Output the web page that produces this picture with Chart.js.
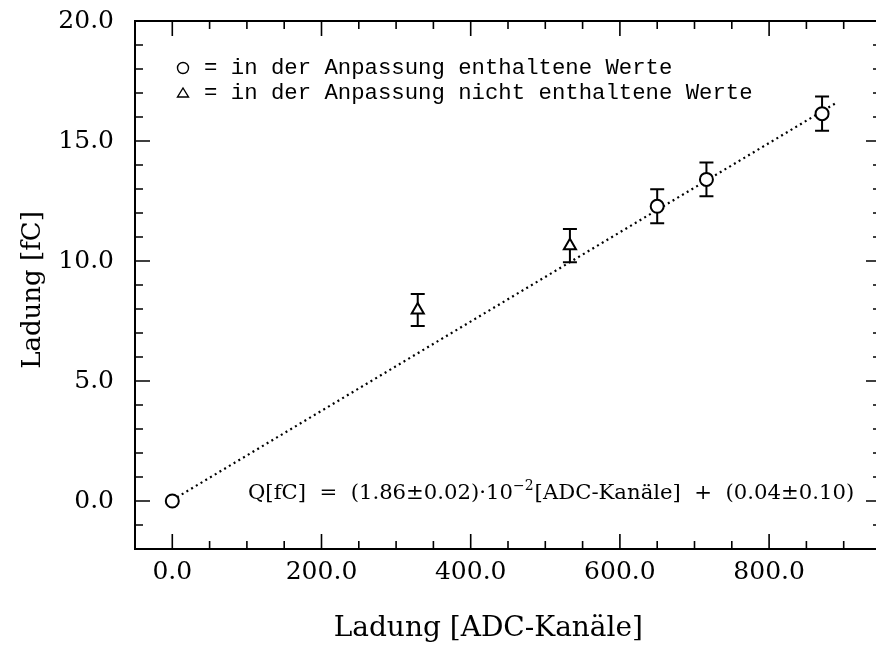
<!DOCTYPE html>
<html><head><meta charset="utf-8">
<script src="https://cdn.jsdelivr.net/npm/chart.js@4.4.0/dist/chart.umd.min.js"></script>
<style>
html,body{margin:0;padding:0;background:#fff;overflow:hidden;width:876px;height:647px}
#wrap{position:absolute;left:0;top:0;width:890px;height:647px}
</style>
</head><body><div id="wrap"><canvas id="c" width="890" height="647"></canvas></div>
<script>
// ---- data ----
const inclX = [0, 650, 716, 871];
const inclY = [0.0, 12.28, 13.40, 16.14];
const inclErr = [0, 0.71, 0.70, 0.71];
const exclX = [329, 533];
const exclY = [7.96, 10.64];
const exclErr = [0.67, 0.69];
const fitX = [0, 890];
const fitY = [0.04, 16.59];
const xMajor = [0, 200, 400, 600, 800];
const yMajor = [0, 5, 10, 15, 20];
const xMinorStep = 50;
const yMinorStep = 1;
const legendTexts = ['= in der Anpassung enthaltene Werte', '= in der Anpassung nicht enthaltene Werte'];
const xTitle = 'Ladung [ADC-Kanäle]';
const yTitle = 'Ladung [fC]';
const eqSegments = [
  {t:'Q[fC]  =  (1.86±0.02)·10', sup:false},
  {t:'−2', sup:true},
  {t:'[ADC-Kanäle]  +  (0.04±0.10)', sup:false}
];

const SERIF = 'DejaVu Serif';
const MONO = 'Liberation Mono';

const framePlugin = {
  id: 'frame',
  beforeDatasetsDraw(chart) {
    const {ctx, chartArea: a, scales: {x, y}} = chart;
    ctx.save();
    ctx.strokeStyle = '#000';
    ctx.lineWidth = 2;
    ctx.strokeRect(a.left, a.top, a.right - a.left, a.bottom - a.top);
    ctx.lineWidth = 1.6;
    ctx.beginPath();
    for (let v = x.min; v <= x.max + 1e-9; v += xMinorStep) {
      const px = x.getPixelForValue(v);
      const len = xMajor.includes(v) ? 15 : 8;
      ctx.moveTo(px, a.bottom); ctx.lineTo(px, a.bottom - len);
      ctx.moveTo(px, a.top); ctx.lineTo(px, a.top + len);
    }
    for (let v = y.min; v <= y.max + 1e-9; v += yMinorStep) {
      const py = y.getPixelForValue(v);
      const len = yMajor.includes(Math.round(v)) ? 15 : 8;
      ctx.moveTo(a.left, py); ctx.lineTo(a.left + len, py);
      ctx.moveTo(a.right, py); ctx.lineTo(a.right - len, py);
    }
    ctx.stroke();
    // error bars
    ctx.lineWidth = 2;
    const bars = (X, Y, E) => {
      X.forEach((xv, i) => {
        if (!E[i]) return;
        const px = x.getPixelForValue(xv);
        const y1 = y.getPixelForValue(Y[i] + E[i]);
        const y2 = y.getPixelForValue(Y[i] - E[i]);
        ctx.beginPath();
        ctx.moveTo(px, y1); ctx.lineTo(px, y2);
        ctx.moveTo(px - 7, y1); ctx.lineTo(px + 7, y1);
        ctx.moveTo(px - 7, y2); ctx.lineTo(px + 7, y2);
        ctx.stroke();
      });
    };
    bars(inclX, inclY, inclErr);
    bars(exclX, exclY, exclErr);
    ctx.restore();
  },
  afterDraw(chart) {
    const {ctx} = chart;
    ctx.save();
    ctx.fillStyle = '#000';
    ctx.strokeStyle = '#000';
    // legend
    ctx.lineWidth = 1.4;
    ctx.beginPath(); ctx.arc(183, 68, 5.5, 0, Math.PI * 2); ctx.stroke();
    ctx.beginPath(); ctx.moveTo(177.5, 97); ctx.lineTo(188.5, 97); ctx.lineTo(183, 88); ctx.closePath(); ctx.stroke();
    ctx.font = '22.3px "' + MONO + '"';
    ctx.textBaseline = 'alphabetic';
    ctx.fillText(legendTexts[0], 204, 74);
    ctx.fillText(legendTexts[1], 204, 99);
    // equation
    let xx = 248;
    const base = 499;
    eqSegments.forEach(s => {
      ctx.font = (s.sup ? '14px "' : '21.2px "') + SERIF + '"';
      ctx.fillText(s.t, xx, s.sup ? base - 9 : base);
      xx += ctx.measureText(s.t).width + (s.sup ? 1 : 0);
    });
    // axis titles
    ctx.font = '28px "' + SERIF + '"';
    ctx.textAlign = 'right';
    ctx.fillText(xTitle, 643, 636);
    ctx.save();
    ctx.translate(40, 290);
    ctx.rotate(-Math.PI / 2);
    ctx.textAlign = 'center';
    ctx.font = '26px "' + SERIF + '"';
    ctx.fillText(yTitle, 0, 0);
    ctx.restore();
    ctx.restore();
  }
};

const ctx = document.getElementById('c').getContext('2d');
new Chart(ctx, {
  type: 'scatter',
  data: {
    datasets: [
      {
        label: 'fit', type: 'line',
        data: fitX.map((v, i) => ({x: v, y: fitY[i]})),
        borderColor: '#000', borderWidth: 2.2, borderDash: [2, 3.5],
        pointRadius: 0, fill: false, order: 3
      },
      {
        label: 'incl',
        data: inclX.map((v, i) => ({x: v, y: inclY[i]})),
        pointStyle: 'circle', pointRadius: 6.5, borderColor: '#000',
        backgroundColor: '#fff', borderWidth: 2, order: 1
      },
      {
        label: 'excl',
        data: exclX.map((v, i) => ({x: v, y: exclY[i]})),
        pointStyle: 'triangle', pointRadius: 7, borderColor: '#000',
        backgroundColor: '#fff', borderWidth: 2, order: 1
      }
    ]
  },
  options: {
    responsive: false,
    animation: false,
    layout: {padding: {left: 0, right: 6, top: 21, bottom: 0}},
    plugins: {legend: {display: false}, tooltip: {enabled: false}},
    scales: {
      x: {
        type: 'linear', min: -50, max: 950,
        grid: {display: false, drawTicks: false},
        border: {display: false},
        afterBuildTicks: s => { s.ticks = xMajor.map(v => ({value: v})); },
        ticks: {
          callback: v => Number(v).toFixed(1),
          font: {family: SERIF, size: 25}, color: '#000',
          padding: 8, maxRotation: 0, autoSkip: false
        },
        title: {display: false},
        afterFit: s => { s.height = 98; s.paddingLeft = 0; s.paddingRight = 0; s.paddingTop = 0; s.paddingBottom = 0; }
      },
      y: {
        type: 'linear', min: -2, max: 20,
        grid: {display: false, drawTicks: false},
        border: {display: false},
        afterBuildTicks: s => { s.ticks = yMajor.map(v => ({value: v})); },
        ticks: {
          callback: v => Number(v).toFixed(1),
          font: {family: SERIF, size: 25}, color: '#000',
          padding: 21, autoSkip: false
        },
        title: {display: false},
        afterFit: s => { s.width = 135; s.paddingTop = 0; s.paddingBottom = 0; s.paddingLeft = 0; s.paddingRight = 0; }
      }
    }
  },
  plugins: [framePlugin]
});
</script>
</body></html>
